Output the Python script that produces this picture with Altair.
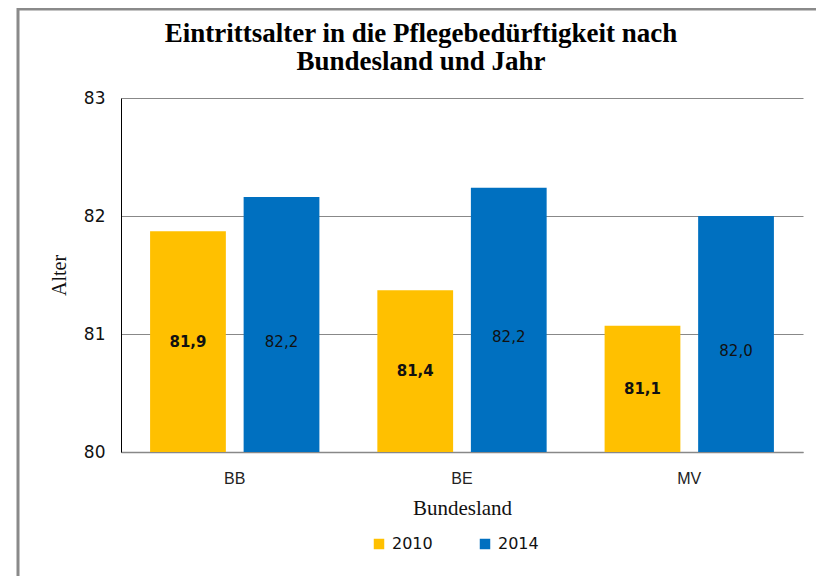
import altair as alt
import pandas as pd

laender = ["BB", "BE", "MV"]
jahre = ["2010", "2014"]
werte_2010 = [81.87, 81.37, 81.07]
werte_2014 = [82.16, 82.24, 82.00]
labels_2010 = ["81,9", "81,4", "81,1"]
labels_2014 = ["82,2", "82,2", "82,0"]
titel = ["Eintrittsalter in die Pflegebedürftigkeit nach", "Bundesland und Jahr"]
farben = ["#FFC000", "#0070C0"]

rows = []
for i, land in enumerate(laender):
    rows.append({"Bundesland": land, "Jahr": jahre[0], "Alter": werte_2010[i], "Label": labels_2010[i]})
    rows.append({"Bundesland": land, "Jahr": jahre[1], "Alter": werte_2014[i], "Label": labels_2014[i]})
df = pd.DataFrame(rows)

x_enc = alt.X("Bundesland:N", sort=laender,
              scale=alt.Scale(paddingInner=0.255, paddingOuter=0.128),
              axis=alt.Axis(title="Bundesland", labelAngle=0, ticks=False,
                            labelFont="Liberation Sans", labelFontSize=16, labelColor="#222",
                            labelPadding=18, domainColor="#888", domainWidth=1.5,
                            titleFont="Liberation Serif", titleFontSize=21,
                            titleFontWeight="normal", titleColor="#111", titlePadding=11))
xoff = alt.XOffset("Jahr:N", sort=jahre, scale=alt.Scale(paddingInner=0.19, paddingOuter=0))
y_enc = alt.Y("Alter:Q", scale=alt.Scale(domain=[80, 83], nice=False, zero=False),
              axis=alt.Axis(title="Alter", values=[80, 81, 82, 83], format="d", ticks=False,
                            labelFont="DejaVu Sans", labelFontSize=17, labelColor="#111",
                            labelPadding=16, domainColor="#000", gridColor="#888",
                            titleFont="Liberation Serif", titleFontSize=20,
                            titleFontWeight="normal", titleColor="#111", titlePadding=14))

base = alt.Chart(df)

bars = base.mark_bar().encode(
    x=x_enc, xOffset=xoff, y=y_enc, y2=alt.datum(80),
    color=alt.Color("Jahr:N", sort=jahre, scale=alt.Scale(domain=jahre, range=farben),
                    legend=alt.Legend(title=None, orient="none", legendX=250, legendY=438,
                                      direction="horizontal", symbolType="square",
                                      symbolSize=110, symbolStrokeWidth=0,
                                      labelFont="DejaVu Sans", labelFontSize=16,
                                      labelColor="#111", columnPadding=44, labelOffset=5)),
)

mid = base.transform_calculate(mid="(80 + datum.Alter) / 2")

text10 = mid.transform_filter(alt.datum.Jahr == "2010").mark_text(
    font="DejaVu Sans", fontSize=15, fontWeight="bold", color="#111"
).encode(x=alt.X("Bundesland:N", sort=laender), xOffset=alt.XOffset("Jahr:N", sort=jahre),
         y=alt.Y("mid:Q"), text="Label:N")

text14 = mid.transform_filter(alt.datum.Jahr == "2014").mark_text(
    font="DejaVu Sans", fontSize=15, color="#111", dy=17
).encode(x=alt.X("Bundesland:N", sort=laender), xOffset=alt.XOffset("Jahr:N", sort=jahre),
         y=alt.Y("mid:Q"), text="Label:N")

one = pd.DataFrame({"a": [0]})
title1 = alt.Chart(one).mark_text(font="Liberation Serif", fontSize=27, fontWeight="bold",
                                  color="#000", baseline="middle", align="center").encode(
    x=alt.value(300), y=alt.value(-64), text=alt.value(titel[0]))
title2 = alt.Chart(one).mark_text(font="Liberation Serif", fontSize=27, fontWeight="bold",
                                  color="#000", baseline="middle", align="center").encode(
    x=alt.value(300), y=alt.value(-36), text=alt.value(titel[1]))

frame_left = alt.Chart(one).mark_rule(color="#8a8a8a", strokeWidth=3).encode(
    x=alt.value(-103), y=alt.value(-92), y2=alt.value(480))
frame_top = alt.Chart(one).mark_rule(color="#8a8a8a", strokeWidth=3).encode(
    x=alt.value(-103), x2=alt.value(720), y=alt.value(-89))

chart = alt.layer(bars, text10, text14, title1, title2, frame_left, frame_top).properties(
    width=682, height=354,
    autosize=alt.AutoSizeParams(type="none"),
    padding={"left": 113, "top": 90, "right": 13, "bottom": 124},
).configure_view(stroke=None)

chart.save("out.html", embed_options={"renderer": "svg", "actions": False})
